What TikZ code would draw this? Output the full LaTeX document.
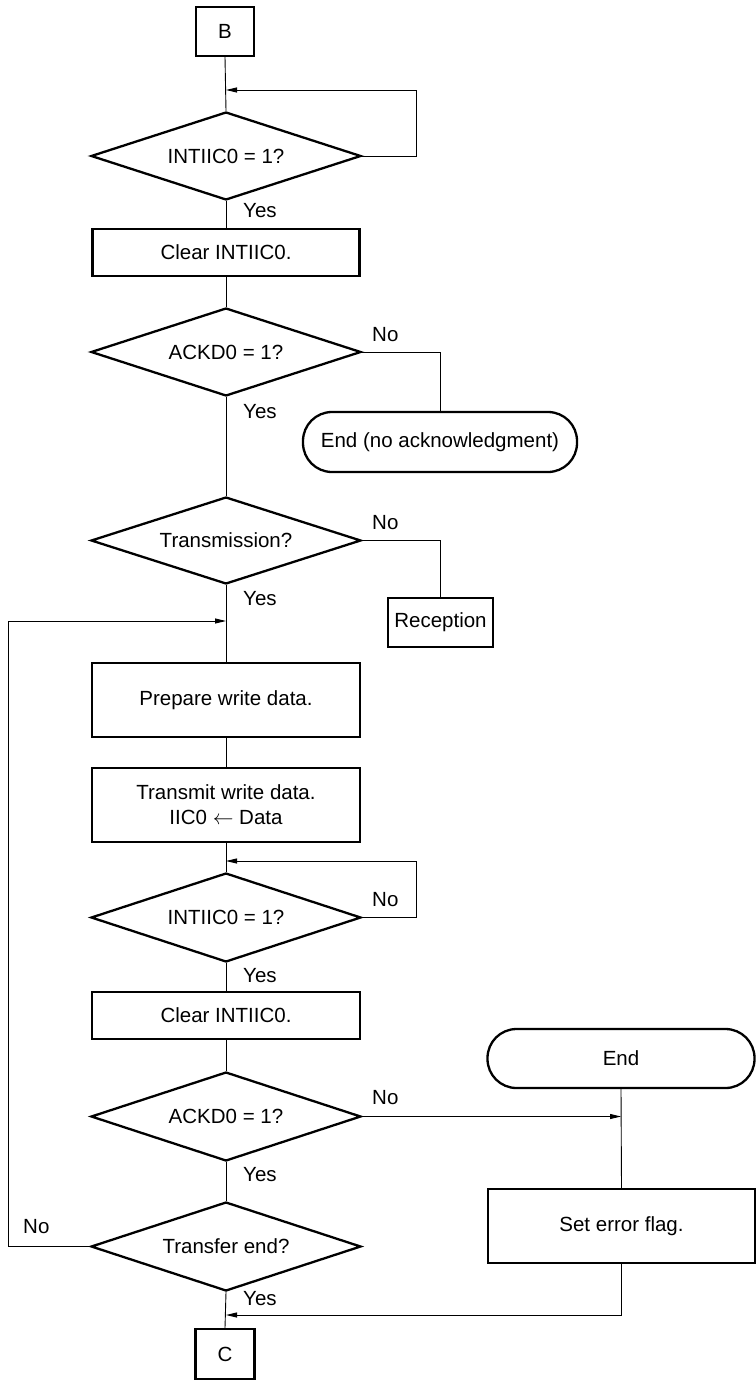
\documentclass[tikz,border=0pt]{standalone}
\usepackage{fontspec}
\setmainfont{Liberation Sans}
\usetikzlibrary{shapes.geometric,arrows.meta}
\begin{document}
\begin{tikzpicture}[x=1pt,y=-1pt,
  font=\fontsize{20.5}{25}\selectfont,
  box/.style={draw, line width=2.3pt, inner sep=0pt, align=center},
  dec/.style={draw, line width=2.3pt, diamond, inner sep=0pt, shape aspect=3.05, minimum width=270pt, minimum height=88pt},
  term/.style={draw, line width=2.3pt, rounded corners=29pt, inner sep=0pt},
  conn/.style={line width=0.9pt},
  arr/.style={line width=0.9pt, -{Triangle[length=11pt,width=5pt]}},
  lbl/.style={anchor=west, inner sep=0pt}
]
\useasboundingbox (0,0) rectangle (755,1380);

% nodes
\node[box, minimum width=58pt, minimum height=49pt] (B) at (225,31.5) {B};
\node[dec] (d1) at (226,156) {INTIIC0 = 1?};
\node[box, minimum width=267pt, minimum height=47pt] (c1) at (226,252.5) {Clear INTIIC0.};
\node[dec] (d2) at (226,352) {ACKD0 = 1?};
\node[term, minimum width=274pt, minimum height=60pt] (end1) at (440,442) {End (no acknowledgment)};
\node[dec, minimum height=87pt] (d3) at (226,540.5) {Transmission?};
\node[box, minimum width=105pt, minimum height=49pt] (rec) at (440.5,622.5) {Reception};
\node[box, minimum width=268pt, minimum height=74pt] (prep) at (226,700) {Prepare write data.};
\node[box, minimum width=268pt, minimum height=74pt] (trans) at (226,805) {Transmit write data.\\IIC0 $\leftarrow$ Data};
\node[dec, minimum height=89pt] (d4) at (226,917.5) {INTIIC0 = 1?};
\node[box, minimum width=268pt, minimum height=47pt] (c2) at (226,1015.5) {Clear INTIIC0.};
\node[term, minimum width=267pt, minimum height=59pt] (end2) at (621,1058.5) {End};
\node[dec, minimum height=89pt] (d5) at (226,1116.5) {ACKD0 = 1?};
\node[box, minimum width=267pt, minimum height=74pt] (err) at (621.5,1226) {Set error flag.};
\node[dec, minimum height=89pt] (d6) at (226,1246.5) {Transfer end?};
\node[box, minimum width=59pt, minimum height=50pt] (C) at (225,1354) {C};

% junction coordinates
\coordinate (j1) at (226,90);
\coordinate (j2) at (226,621);
\coordinate (j3) at (226,861);
\coordinate (j4) at (621,1116.5);
\coordinate (j5) at (226,1315);

% connectors
\draw[conn] (B.south) -- (d1.north);
\draw[arr] (d1.east) -- ++(54,0) |- (j1);
\draw[conn] (d1.south) -- (c1.north);
\draw[conn] (c1.south) -- (d2.north);
\draw[conn] (d2.east) -| (end1.north);
\draw[conn] (d2.south) -- (d3.north);
\draw[conn] (d3.east) -| (rec.north);
\draw[conn] (d3.south) -- (prep.north);
\draw[conn] (prep.south) -- (trans.north);
\draw[conn] (trans.south) -- (d4.north);
\draw[arr] (d4.east) -- ++(54,0) |- (j3);
\draw[conn] (d4.south) -- (c2.north);
\draw[conn] (c2.south) -- (d5.north);
\draw[conn] (end2.south) -- (err.north);
\draw[arr] (d5.east) -- (j4);
\draw[conn] (d5.south) -- (d6.north);
\draw[arr] (d6.west) -- (8,1246.5) |- (j2);
\draw[conn] (d6.south) -- (C.north);
\draw[arr] (err.south) |- (j5);

% labels
\node[lbl] at (243,211) {Yes};
\node[lbl] at (372,335) {No};
\node[lbl] at (243,412) {Yes};
\node[lbl] at (372,523) {No};
\node[lbl] at (243,599) {Yes};
\node[lbl] at (372,900) {No};
\node[lbl] at (243,976) {Yes};
\node[lbl] at (372,1098) {No};
\node[lbl] at (243,1175) {Yes};
\node[lbl] at (23,1227) {No};
\node[lbl] at (243,1299) {Yes};
\end{tikzpicture}
\end{document}
